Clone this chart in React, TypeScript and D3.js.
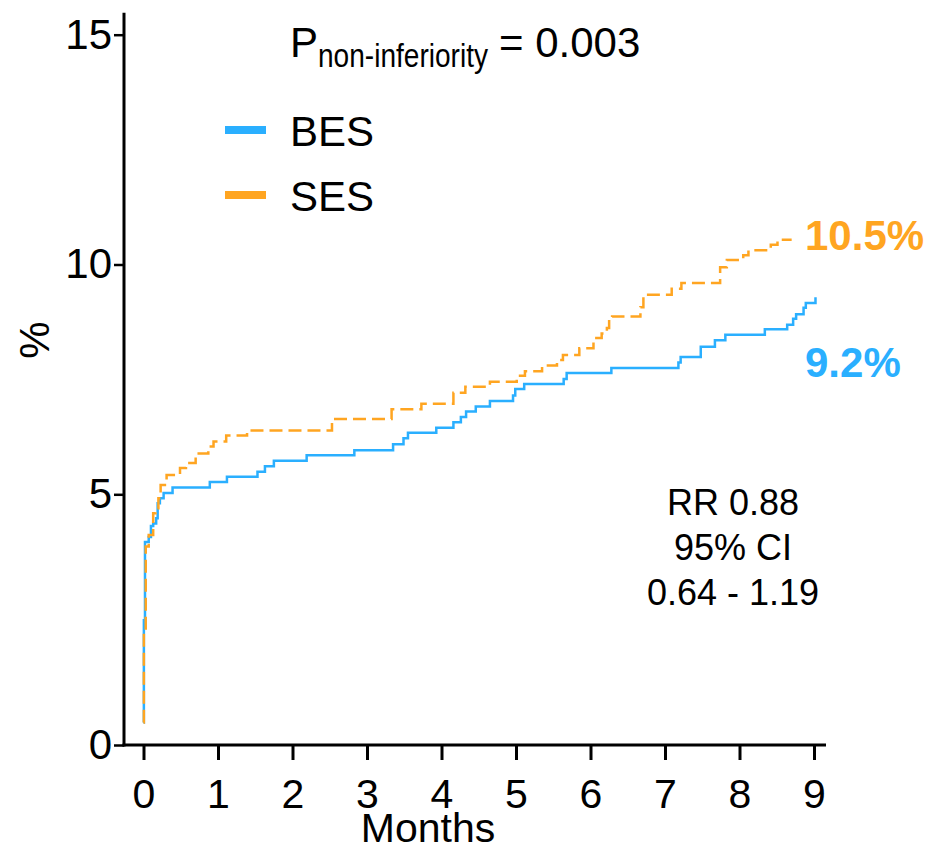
import React, { useEffect, useRef } from "react";
import * as d3 from "d3";

// axis ticks
const monthTicks = [0, 1, 2, 3, 4, 5, 6, 7, 8, 9];
const pctTicks = [0, 5, 10, 15];

// BES cumulative incidence (months, %)
const besMonths = [0, 0.005, 0.02, 0.07, 0.1, 0.13, 0.17, 0.19, 0.22, 0.27, 0.39, 0.89, 1.12, 1.53, 1.63, 1.75, 2.19, 2.83, 3.35, 3.49, 3.55, 3.93, 4.16, 4.26, 4.33, 4.46, 4.65, 4.96, 4.99, 5.11, 5.64, 5.68, 6.28, 7.18, 7.21, 7.48, 7.67, 7.81, 8.34, 8.64, 8.72, 8.76, 8.86, 8.89, 9.02];
const besPct = [0.45, 2.49, 4.05, 4.15, 4.37, 4.42, 4.52, 4.82, 4.92, 5.03, 5.15, 5.27, 5.38, 5.49, 5.61, 5.73, 5.85, 5.96, 6.09, 6.22, 6.34, 6.45, 6.57, 6.68, 6.8, 6.91, 7.03, 7.15, 7.29, 7.4, 7.51, 7.64, 7.75, 7.87, 7.99, 8.21, 8.35, 8.47, 8.59, 8.69, 8.82, 8.92, 9.06, 9.16, 9.29];

// SES cumulative incidence (months, %)
const sesMonths = [0, 0.005, 0.03, 0.07, 0.13, 0.16, 0.2, 0.23, 0.31, 0.49, 0.57, 0.7, 0.87, 0.94, 1.11, 1.39, 2.53, 3.33, 3.73, 4.16, 4.32, 4.65, 5.01, 5.12, 5.35, 5.55, 5.63, 5.85, 6.04, 6.15, 6.22, 6.25, 6.29, 6.67, 6.71, 7.09, 7.22, 7.74, 7.83, 8.05, 8.12, 8.42, 8.51, 8.7];
const sesPct = [0.45, 2.26, 3.96, 4.19, 4.62, 4.72, 4.92, 5.2, 5.42, 5.57, 5.68, 5.89, 6.04, 6.15, 6.28, 6.39, 6.64, 6.85, 6.97, 7.21, 7.34, 7.45, 7.58, 7.68, 7.8, 7.92, 8.03, 8.18, 8.4, 8.5, 8.62, 8.8, 8.87, 9.07, 9.34, 9.47, 9.6, 9.94, 10.1, 10.2, 10.31, 10.43, 10.54, 10.54];

const seriesNames = ["BES", "SES"];
const endLabels = ["9.2%", "10.5%"];
const rrLines = ["RR 0.88", "95% CI", "0.64 - 1.19"];

const App = () => {
  const svgRef = useRef<SVGSVGElement>(null);

  useEffect(() => {
    const svg = d3.select(svgRef.current);
    svg.selectAll("*").remove();

    const font = "'Liberation Sans', Arial, sans-serif";
    const blue = "#2aafff";
    const orange = "#ffa521";
    const colors = [blue, orange];

    const x = d3.scaleLinear().domain([0, 9]).range([143.5, 814]);
    // the printed axis is a bit stretched below 5%
    const y = d3.scaleLinear().domain([0, 5, 15]).range([745, 494.3, 34.7]);
    const axisX = 124;

    // y axis
    const yAxis = svg.append("g")
      .attr("transform", `translate(${axisX},0)`)
      .call(d3.axisLeft(y).tickValues(pctTicks).tickSize(10).tickPadding(2).tickFormat(d3.format("d")));
    yAxis.select(".domain").remove();
    yAxis.selectAll("line").attr("stroke", "#000").attr("stroke-width", 2.5);
    yAxis.selectAll("text")
      .attr("font-family", font)
      .attr("font-size", 42)
      .attr("fill", "#000");

    svg.append("line")
      .attr("x1", axisX).attr("x2", axisX)
      .attr("y1", y(15) - 22).attr("y2", y(0) + 1.5)
      .attr("stroke", "#000").attr("stroke-width", 3);

    // x axis
    const xAxis = svg.append("g")
      .attr("transform", `translate(0,${y(0)})`)
      .call(d3.axisBottom(x).tickValues(monthTicks).tickSize(15).tickPadding(19));
    xAxis.select(".domain").remove();
    xAxis.selectAll("line").attr("stroke", "#000").attr("stroke-width", 3);
    xAxis.selectAll("text")
      .attr("font-family", font)
      .attr("font-size", 41)
      .attr("fill", "#000");

    svg.append("line")
      .attr("x1", axisX - 1.5).attr("x2", x(9) + 12)
      .attr("y1", y(0)).attr("y2", y(0))
      .attr("stroke", "#000").attr("stroke-width", 3);

    // axis titles
    svg.append("text")
      .attr("x", 428).attr("y", 842)
      .attr("text-anchor", "middle")
      .attr("font-family", font).attr("font-size", 41)
      .text("Months");

    svg.append("text")
      .attr("transform", "translate(49,340) rotate(-90)")
      .attr("text-anchor", "middle")
      .attr("font-family", font).attr("font-size", 42)
      .text("%");

    // curves
    const line = d3.line<[number, number]>()
      .x(d => x(d[0]))
      .y(d => y(d[1]))
      .curve(d3.curveStepAfter);

    const besData = besMonths.map((m, i) => [m, besPct[i]] as [number, number]);
    const sesData = sesMonths.map((m, i) => [m, sesPct[i]] as [number, number]);

    svg.append("path")
      .datum(besData)
      .attr("fill", "none")
      .attr("stroke", blue)
      .attr("stroke-width", 2.5)
      .attr("d", line);

    svg.append("path")
      .datum(sesData)
      .attr("fill", "none")
      .attr("stroke", orange)
      .attr("stroke-width", 2.5)
      .attr("stroke-dasharray", "13,6")
      .attr("d", line);

    // end labels
    const labelY = [377, 250];
    endLabels.forEach((t, i) => {
      svg.append("text")
        .attr("x", x(9) - 9)
        .attr("y", labelY[i])
        .attr("font-family", font)
        .attr("font-size", 42)
        .attr("font-weight", "bold")
        .attr("fill", colors[i])
        .text(t);
    });

    // legend
    const legendY = [130, 195];
    seriesNames.forEach((name, i) => {
      svg.append("line")
        .attr("x1", 225).attr("x2", 266)
        .attr("y1", legendY[i]).attr("y2", legendY[i])
        .attr("stroke", colors[i])
        .attr("stroke-width", 8);
      svg.append("text")
        .attr("x", 290).attr("y", legendY[i] + 16)
        .attr("font-family", font).attr("font-size", 42)
        .attr("fill", "#000")
        .text(name);
    });

    // p value
    svg.append("text")
      .attr("x", 290).attr("y", 57)
      .attr("font-family", font).attr("font-size", 42)
      .text("P");
    svg.append("text")
      .attr("x", 318).attr("y", 67)
      .attr("font-family", font).attr("font-size", 34)
      .attr("textLength", 170)
      .attr("lengthAdjust", "spacingAndGlyphs")
      .text("non-inferiority");
    svg.append("text")
      .attr("x", 499).attr("y", 57)
      .attr("font-family", font).attr("font-size", 42)
      .text("= 0.003");

    // risk ratio
    rrLines.forEach((t, i) => {
      svg.append("text")
        .attr("x", 733).attr("y", 515 + i * 45)
        .attr("text-anchor", "middle")
        .attr("font-family", font).attr("font-size", 36)
        .text(t);
    });
  }, []);

  return (
    <svg
      ref={svgRef}
      width={928}
      height={848}
      style={{ position: "absolute", left: 0, top: 0, background: "#fff" }}
    />
  );
};

export default App;
